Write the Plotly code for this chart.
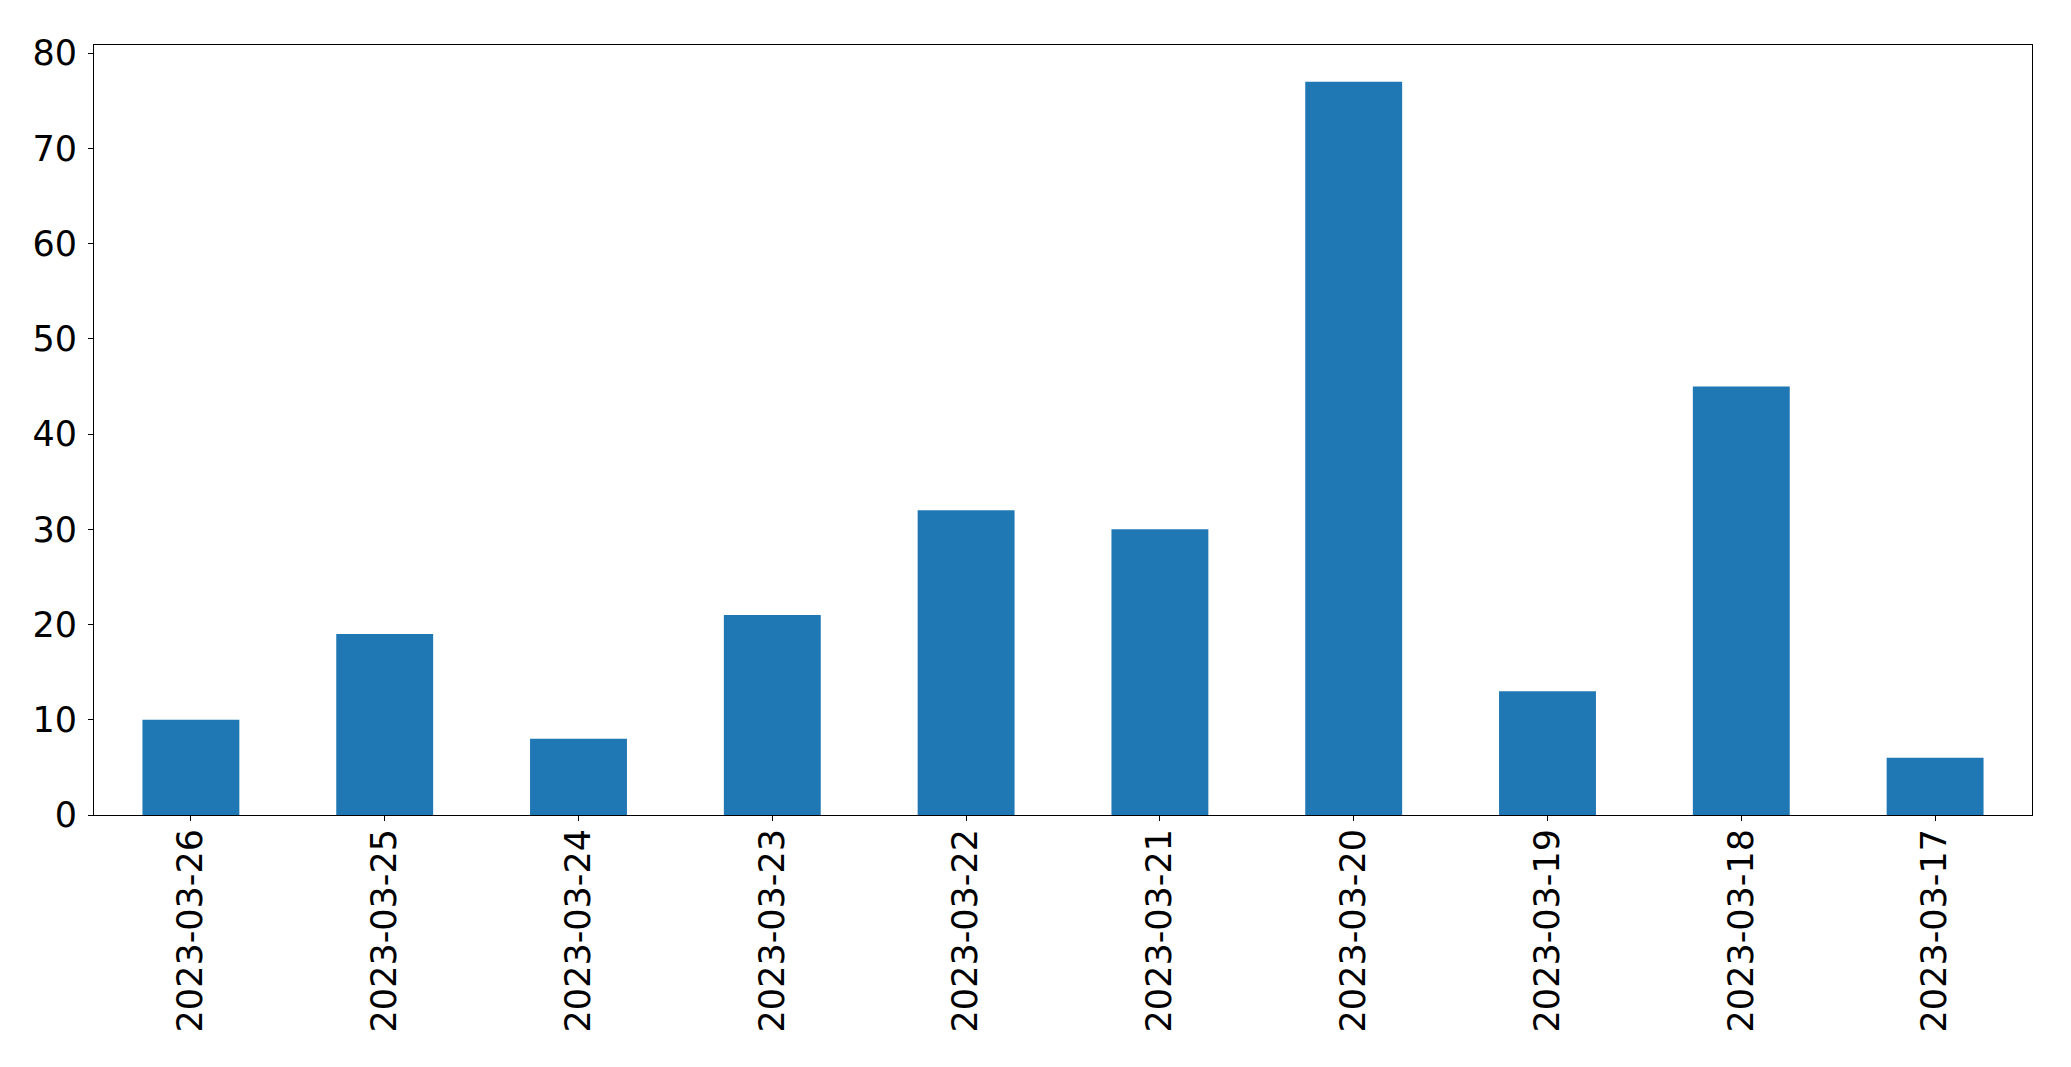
import plotly.graph_objects as go

# ── Data ──────────────────────────────────────────────────────────────────────

dates = [
    "2023-03-26", "2023-03-25", "2023-03-24", "2023-03-23", "2023-03-22",
    "2023-03-21", "2023-03-20", "2023-03-19", "2023-03-18", "2023-03-17",
]
counts = [10, 19, 8, 21, 32, 30, 77, 13, 45, 6]

BLUE = "#1f77b4"
FONT = dict(family="DejaVu Sans", size=35, color="black")

fig = go.Figure(go.Bar(
    x=dates,
    y=counts,
    marker=dict(color=BLUE, line=dict(width=0)),
))

axis_common = dict(
    showline=True,
    linecolor="black",
    linewidth=1,
    mirror=True,
    ticks="outside",
    ticklen=5,
    tickwidth=1,
    tickcolor="black",
    showgrid=False,
    zeroline=False,
    tickfont=FONT,
)

# page body adds an 8px margin, so the figure is 8px smaller than the window
fig.update_layout(
    width=2063,
    height=1059,
    paper_bgcolor="white",
    plot_bgcolor="white",
    margin=dict(l=86, r=39, t=37, b=252),
    bargap=0.5,
    showlegend=False,
    font=FONT,
)
fig.update_xaxes(
    type="category",
    tickangle=-90,
    range=[-0.5, len(dates) - 0.5],
    ticklabelstandoff=-6,
    **axis_common,
)
fig.update_yaxes(
    range=[0, max(counts) * 1.05],
    tickvals=list(range(0, 81, 10)),
    ticklabelstandoff=4,
    **axis_common,
)

fig.write_html("out.html")
